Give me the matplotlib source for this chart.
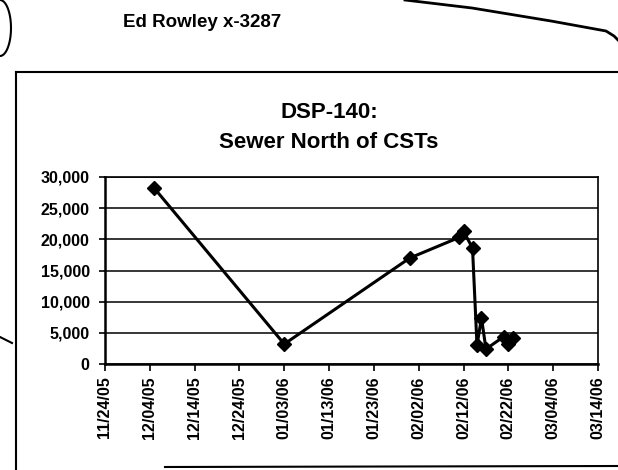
import matplotlib
matplotlib.use("Agg")
import matplotlib.pyplot as plt
import matplotlib.dates as mdates
from matplotlib.lines import Line2D
from matplotlib.ticker import MultipleLocator, FuncFormatter
import numpy as np
from datetime import datetime

# ---- data ----
dates = ["12/05/05", "01/03/06", "01/31/06", "02/11/06", "02/12/06", "02/14/06",
         "02/15/06", "02/16/06", "02/17/06", "02/21/06", "02/22/06", "02/23/06"]
values = [28200, 3200, 17000, 20300, 21300, 18600,
          3000, 7400, 2400, 4400, 3200, 4200]
title_lines = ["DSP-140:", "Sewer North of CSTs"]
header_text = "Ed Rowley x-3287"
x_start, x_end = "11/24/05", "03/14/06"
y_max, y_step = 30000, 5000
x_step_days = 10

W, H = 618, 470
plt.rcParams['font.family'] = ['Liberation Sans', 'DejaVu Sans']
fig = plt.figure(figsize=(W / 100, H / 100), dpi=100)

# plot area
L, R, T, B = 105, 598, 177, 364
ax = fig.add_axes([L / W, 1 - B / H, (R - L) / W, (B - T) / H])

xd = [datetime.strptime(d, "%m/%d/%y") for d in dates]
ax.plot(xd, values, color='black', lw=2.2, marker='D', markersize=7.5,
        markerfacecolor='black', markeredgecolor='black', zorder=3)

start = mdates.date2num(datetime.strptime(x_start, "%m/%d/%y"))
end = mdates.date2num(datetime.strptime(x_end, "%m/%d/%y"))
ax.set_xlim(start, end)
ax.set_ylim(0, y_max)
ax.set_xticks(np.arange(start, end + 0.5, x_step_days))
ax.xaxis.set_major_formatter(mdates.DateFormatter("%m/%d/%y"))
ax.yaxis.set_major_locator(MultipleLocator(y_step))
ax.yaxis.set_major_formatter(FuncFormatter(lambda v, p: f"{int(v):,}"))

for lab in ax.get_xticklabels():
    lab.set_rotation(90)
ax.tick_params(axis='x', labelsize=11.5, length=5, width=1.2, pad=4, colors='black')
ax.tick_params(axis='y', labelsize=11.5, length=4, width=1.2, pad=7, colors='black')
for lab in ax.get_xticklabels() + ax.get_yticklabels():
    lab.set_fontweight('bold')

ax.grid(axis='y', color='black', lw=1.1)
ax.set_axisbelow(True)
for s in ['left', 'bottom']:
    ax.spines[s].set_linewidth(1.8)
for s in ['top', 'right']:
    ax.spines[s].set_linewidth(1.2)

# title
fig.text(329 / W, 1 - 118 / H, title_lines[0], ha='center', va='baseline',
         fontsize=16, fontweight='bold')
fig.text(329 / W, 1 - 148 / H, title_lines[1], ha='center', va='baseline',
         fontsize=16, fontweight='bold')

# header
fig.text(123 / W, 1 - 27 / H, header_text, ha='left', va='baseline',
         fontsize=13.5, fontweight='bold')

# chart frame (scanned page)
def seg(xs, ys, lw=1.5):
    fx = [x / W for x in xs]
    fy = [1 - y / H for y in ys]
    fig.add_artist(Line2D(fx, fy, color='black', lw=lw, transform=fig.transFigure))

seg([16, 618], [72, 72])
seg([16, 16], [72, 470])
seg([165, 618], [467, 466])

# hand-drawn marks
seg([405, 472, 551, 606, 614, 618], [0, 8, 21, 31, 36, 40], lw=2)
t = np.linspace(-np.pi / 2, np.pi / 2, 30)
seg(list(0 + 11 * np.cos(t)), list(28 + 28 * np.sin(t)), lw=1.5)
seg([0, 12], [337, 343], lw=1.5)

fig.savefig("out.png", dpi=100)
